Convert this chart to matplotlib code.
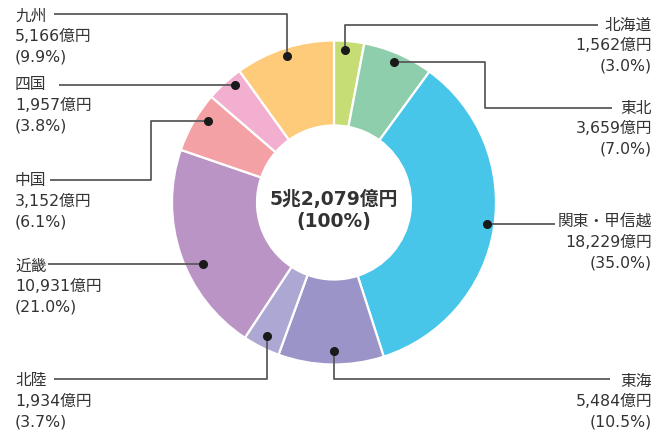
import numpy as np
import matplotlib
matplotlib.use("Agg")
import matplotlib.pyplot as plt

plt.rcParams['font.family'] = ['DejaVu Sans', 'Noto Sans CJK JP']

# ---- data ----
regions = ['北海道', '東北', '関東・甲信越', '東海', '北陸', '近畿', '中国', '四国', '九州']
amounts = [1562, 3659, 18229, 5484, 1934, 10931, 3152, 1957, 5166]   # 億円
percents = [3.0, 7.0, 35.0, 10.5, 3.7, 21.0, 6.1, 3.8, 9.9]
total_label = '5兆2,079億円'
total_pct = '(100%)'

# ---- styles ----
colors = ['#c6dd76', '#8ecead', '#48c6e9', '#9b94c8', '#aca8d3',
          '#b994c4', '#f4a1a6', '#f3afd0', '#fdcb79']
text_color = '#333333'
line_color = '#5a5a5a'

# leader styling: (fraction along wedge, radius px, path of corners, label anchor)
leaders = {
    '北海道':      (0.38, 153, [(None, 25), (598, 25)], (652, 25, 'right')),
    '東北':        (0.49, 153, [(485, None), (485, 108), (612, 108)], (652, 108, 'right')),
    '関東・甲信越': (0.49, 154, [(555, None)], (652, 222, 'right')),
    '東海':        (0.47, 149, [(None, 379), (610, 379)], (652, 381, 'right')),
    '北陸':        (0.50, 150, [(None, 379), (54, 379)], (15, 381, 'left')),
    '近畿':        (0.415, 145, [(48, None)], (15, 266, 'left')),
    '中国':        (0.65, 150, [(151, None), (151, 180), (50, 180)], (15, 181, 'left')),
    '四国':        (0.67, 154, [(59, None)], (15, 85, 'left')),
    '九州':        (0.50, 154, [(None, 14), (54, 14)], (15, 16, 'left')),
}

W, H = 672, 432
fig = plt.figure(figsize=(W / 100, H / 100), dpi=100)
ax = fig.add_axes([0, 0, 1, 1])

cx, cy, R, r_in = 334, 202.5, 162, 77
wedges, _ = ax.pie(amounts, colors=colors, startangle=-90, counterclock=True,
                   center=(cx, cy), radius=R,
                   wedgeprops=dict(width=R - r_in, edgecolor='white', linewidth=1.6))
ax.set_xlim(0, W)
ax.set_ylim(H, 0)
ax.set_aspect('equal')
ax.axis('off')

fs = 11.3
lh = 20.5
for w, name, amt, pct in zip(wedges, regions, amounts, percents):
    frac, rr, corners, (lx, ly, ha) = leaders[name]
    ang = np.deg2rad(w.theta1 + frac * (w.theta2 - w.theta1))
    dx, dy = cx + rr * np.cos(ang), cy + rr * np.sin(ang)
    xs, ys = [dx], [dy]
    for (px, py) in corners:
        px = xs[-1] if px is None else px
        py = ys[-1] if py is None else py
        xs.append(px)
        ys.append(py)
    ax.plot(xs, ys, color=line_color, lw=1.3, solid_capstyle='butt', zorder=3)
    ax.plot([dx], [dy], 'o', color='#1a1a1a', ms=5.5, zorder=4)
    lines = [name, f'{amt:,}億円', f'({pct:.1f}%)']
    for i, t in enumerate(lines):
        ax.text(lx, ly + i * lh, t, ha=ha, va='center', fontsize=fs,
                color=text_color)

ax.text(cx, 199, total_label, ha='center', va='center', fontsize=13.5,
        fontweight='bold', color=text_color)
ax.text(cx, 221, total_pct, ha='center', va='center', fontsize=13.5,
        fontweight='bold', color=text_color)

fig.savefig('out.png', dpi=100)
